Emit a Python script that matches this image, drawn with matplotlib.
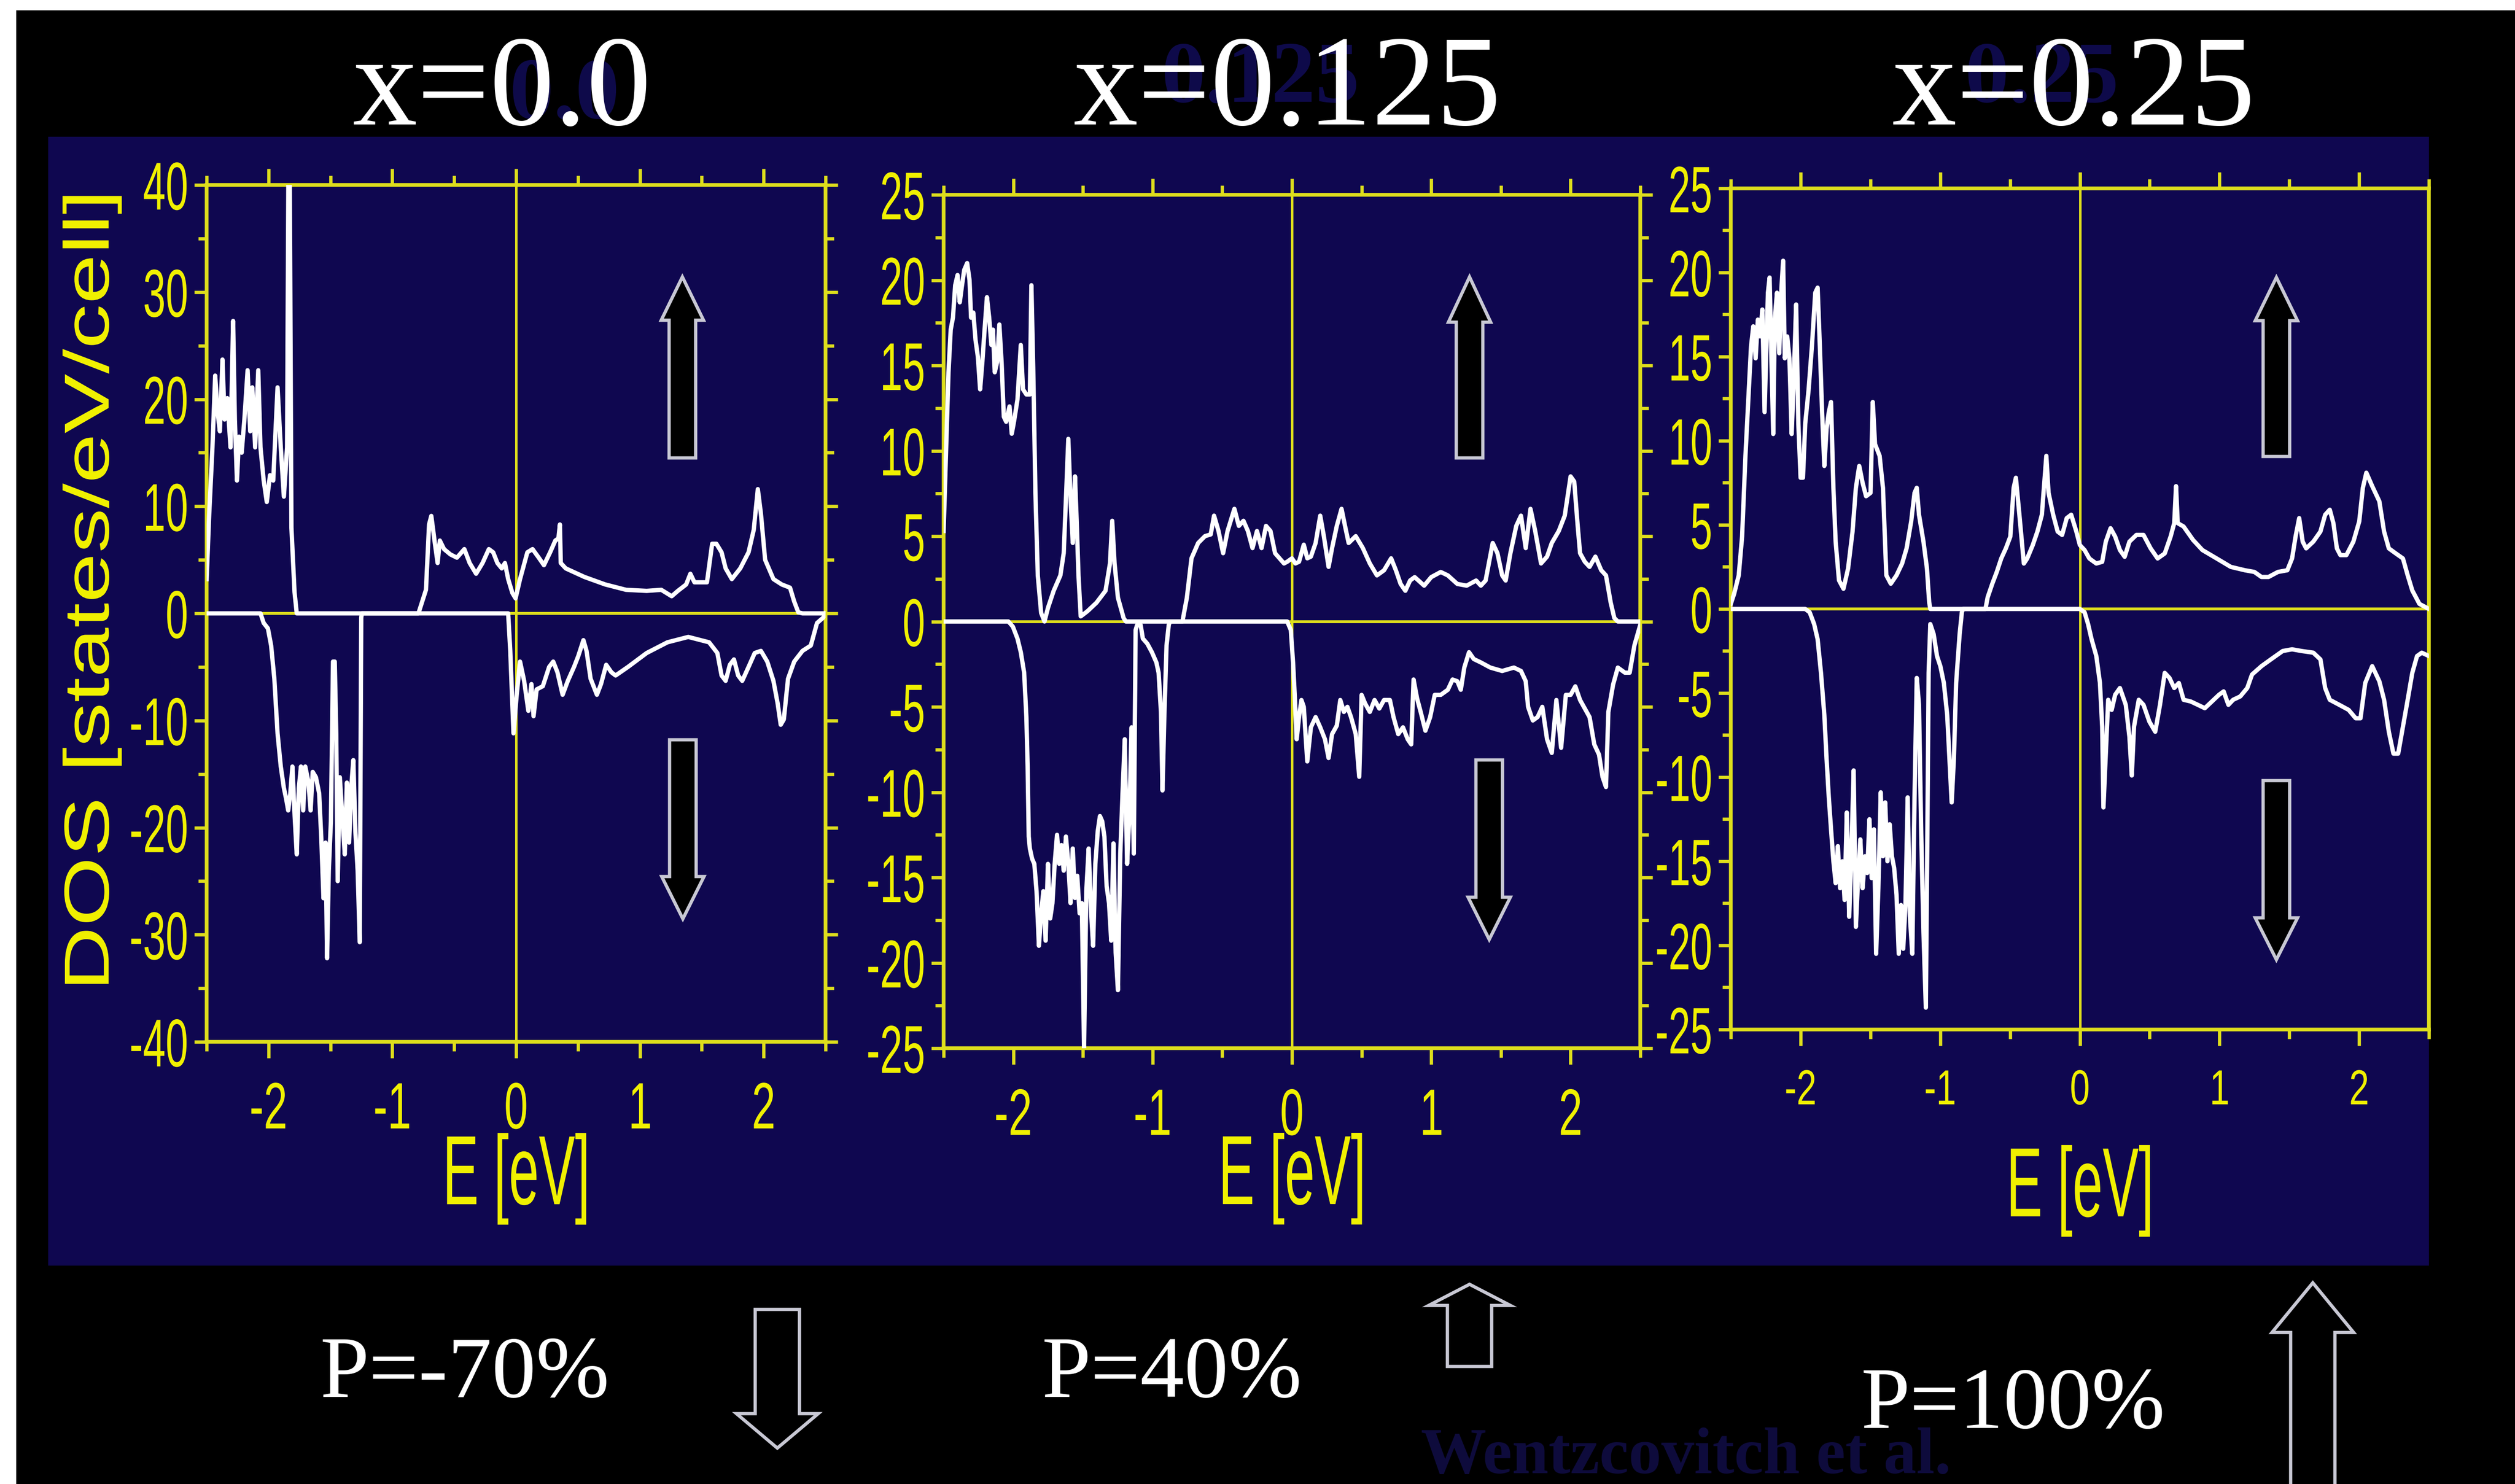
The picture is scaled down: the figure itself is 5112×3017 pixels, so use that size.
import matplotlib
matplotlib.use("Agg")
import matplotlib.pyplot as plt
import matplotlib.patches as patches
from matplotlib.patheffects import AbstractPathEffect
from matplotlib.transforms import Affine2D
from matplotlib.ticker import MultipleLocator

# ---- data: spin-resolved DOS (E in eV, DOS in states/eV/cell) ----
e_up_0 = [-2.5, -2.479, -2.453, -2.431, -2.41, -2.393, -2.372, -2.355, -2.333, -2.307, -2.286, -2.272,
          -2.255, -2.238, -2.217, -2.195, -2.169, -2.148, -2.131, -2.108, -2.083, -2.065, -2.039, -2.014,
          -1.988, -1.962, -1.927, -1.901, -1.876, -1.85, -1.84, -1.828, -1.815, -1.79, -1.772, -0.789,
          -0.728, -0.703, -0.685, -0.659, -0.634, -0.616, -0.582, -0.53, -0.478, -0.418, -0.375, -0.323,
          -0.271, -0.22, -0.185, -0.151, -0.116, -0.09, -0.064, -0.03, -0.004, 0.032, 0.091, 0.133,
          0.183, 0.225, 0.275, 0.317, 0.342, 0.354, 0.361, 0.401, 0.552, 0.72, 0.888, 1.055, 1.173,
          1.257, 1.307, 1.374, 1.408, 1.441, 1.542, 1.584, 1.618, 1.66, 1.693, 1.743, 1.811, 1.878,
          1.92, 1.953, 1.978, 2.012, 2.079, 2.146, 2.213, 2.247, 2.28, 2.314, 2.5]
dos_up_0 = [3.2, 9.3, 15.5, 22.2, 18.6, 17.0, 23.7, 18.1, 20.1, 15.5, 27.3, 18.1,
            12.4, 16.5, 15.0, 18.1, 22.7, 17.0, 21.1, 15.5, 22.7, 15.5, 12.4, 10.4,
            12.9, 12.4, 21.1, 15.5, 10.9, 15.5, 40.0, 40.0, 8.0, 2.0, 0.0, 0.0,
            2.2, 8.3, 9.1, 6.8, 4.7, 6.8, 6.0, 5.5, 5.2, 6.0, 4.7, 3.7,
            4.7, 6.0, 5.7, 4.7, 4.2, 4.7, 3.2, 1.9, 1.4, 3.2, 5.7, 6.0,
            5.2, 4.5, 5.7, 6.8, 7.0, 8.3, 4.7, 4.2, 3.4, 2.7, 2.2, 2.1, 2.2,
            1.6, 2.1, 2.7, 3.7, 2.9, 2.9, 6.5, 6.5, 5.7, 4.2, 3.2, 4.2, 5.7,
            7.8, 11.6, 9.3, 5.0, 3.2, 2.7, 2.4, 1.1, 0.1, 0.0, 0.0]
e_dn_0 = [-2.5, -2.065, -2.039, -2.005, -1.979, -1.953, -1.927, -1.901, -1.876, -1.858, -1.841, -1.824,
          -1.807, -1.789, -1.772, -1.755, -1.738, -1.72, -1.703, -1.677, -1.66, -1.643, -1.617, -1.591,
          -1.574, -1.556, -1.539, -1.527, -1.513, -1.496, -1.479, -1.465, -1.453, -1.441, -1.424, -1.401,
          -1.384, -1.367, -1.349, -1.332, -1.315, -1.298, -1.28, -1.263, -1.251, -1.246, -0.064, -0.047,
          -0.021, 0.005, 0.032, 0.065, 0.099, 0.124, 0.141, 0.166, 0.216, 0.267, 0.3, 0.334, 0.376,
          0.418, 0.468, 0.502, 0.544, 0.569, 0.602, 0.653, 0.686, 0.728, 0.77, 0.804, 0.904, 1.055,
          1.223, 1.391, 1.559, 1.626, 1.66, 1.693, 1.727, 1.76, 1.794, 1.827, 1.878, 1.928, 1.978,
          2.029, 2.079, 2.113, 2.138, 2.163, 2.197, 2.247, 2.314, 2.381, 2.431, 2.481, 2.5]
dos_dn_0 = [0.0, 0.0, -0.9, -1.4, -3.0, -6.1, -11.2, -14.3, -16.3, -17.3, -18.4, -16.8,
            -14.3, -18.9, -22.5, -16.3, -14.3, -18.4, -14.3, -15.8, -18.4, -14.8, -15.3, -16.8,
            -20.9, -26.6, -21.4, -32.2, -24.0, -19.4, -4.5, -4.5, -11.2, -25.0, -15.3, -19.4,
            -22.5, -15.8, -21.4, -16.3, -13.7, -20.4, -24.0, -30.7, -0.4, 0.0, 0.0, -3.5,
            -11.2, -7.6, -4.5, -6.3, -9.1, -6.6, -9.6, -7.1, -6.8, -5.0, -4.5, -5.5, -7.6,
            -6.3, -5.0, -4.0, -2.5, -3.5, -6.1, -7.6, -6.6, -4.8, -5.5, -5.8, -5.0, -3.7,
            -2.7, -2.2, -2.7, -3.7, -5.8, -6.3, -4.8, -4.3, -5.8, -6.3, -5.0, -3.7, -3.5,
            -4.5, -6.3, -8.4, -10.4, -9.9, -6.1, -4.5, -3.5, -3.0, -0.9, -0.4, 0.0]

e_up_1 = [-2.5, -2.482, -2.465, -2.449, -2.433, -2.417, -2.4, -2.384, -2.368, -2.352, -2.331, -2.314,
          -2.303, -2.287, -2.271, -2.254, -2.238, -2.222, -2.206, -2.189, -2.173, -2.157, -2.146, -2.133,
          -2.116, -2.1, -2.084, -2.068, -2.051, -2.027, -2.011, -1.995, -1.97, -1.946, -1.93, -1.906,
          -1.881, -1.87, -1.857, -1.841, -1.824, -1.8, -1.776, -1.751, -1.71, -1.662, -1.638, -1.622,
          -1.605, -1.589, -1.573, -1.557, -1.545, -1.532, -1.516, -1.468, -1.403, -1.338, -1.306, -1.29,
          -1.273, -1.249, -1.208, -1.192, -0.786, -0.754, -0.721, -0.673, -0.624, -0.583, -0.559, -0.527,
          -0.494, -0.462, -0.413, -0.381, -0.348, -0.316, -0.283, -0.251, -0.218, -0.186, -0.154, -0.121,
          -0.089, -0.057, -0.034, 0.0, 0.025, 0.051, 0.085, 0.11, 0.136, 0.17, 0.203, 0.229, 0.263,
          0.288, 0.322, 0.356, 0.381, 0.407, 0.458, 0.509, 0.559, 0.61, 0.661, 0.712, 0.746, 0.78,
          0.814, 0.848, 0.881, 0.949, 1.0, 1.068, 1.119, 1.187, 1.254, 1.322, 1.356, 1.39, 1.441,
          1.475, 1.509, 1.534, 1.568, 1.61, 1.644, 1.678, 1.712, 1.746, 1.788, 1.831, 1.865, 1.915,
          1.958, 2.0, 2.026, 2.051, 2.068, 2.102, 2.136, 2.178, 2.22, 2.254, 2.288, 2.314, 2.339, 2.5]
dos_up_1 = [5.3, 10.1, 14.6, 17.1, 17.8, 19.7, 20.3, 18.7, 19.7, 20.6, 21.0, 20.0,
            17.8, 18.1, 16.5, 15.5, 13.6, 15.2, 17.1, 19.0, 17.8, 16.2, 17.1, 14.6,
            15.2, 17.4, 15.2, 12.0, 11.7, 12.6, 11.0, 11.7, 13.0, 16.2, 13.6, 13.3,
            13.3, 19.7, 14.9, 7.5, 2.7, 0.5, 0.0, 0.8, 1.8, 2.7, 4.0, 7.2,
            10.7, 7.2, 4.6, 8.5, 5.9, 2.7, 0.3, 0.6, 1.1, 1.8, 3.4, 5.9,
            3.4, 1.4, 0.2, 0.0, 0.0, 1.4, 3.7, 4.6, 5.0, 5.1, 6.2, 5.3,
            4.0, 5.3, 6.6, 5.6, 5.9, 5.3, 4.3, 5.3, 4.3, 5.6, 5.3, 4.0,
            3.7, 3.4, 3.5, 3.7, 3.4, 3.5, 4.5, 3.7, 3.8, 4.6, 6.2, 5.0, 3.2,
            4.3, 5.6, 6.6, 5.6, 4.6, 5.0, 4.3, 3.4, 2.7, 3.0, 3.7, 3.0, 2.2,
            1.8, 2.4, 2.6, 2.1, 2.6, 2.9, 2.7, 2.2, 2.1, 2.4, 2.1, 2.4, 4.6,
            4.0, 2.7, 2.4, 4.0, 5.6, 6.2, 4.3, 6.6, 5.3, 3.4, 3.8, 4.6, 5.3,
            6.2, 8.5, 8.2, 5.6, 4.0, 3.5, 3.2, 3.8, 3.0, 2.7, 1.1, 0.2, 0.0, 0.0]
e_dn_1 = [-2.5, -2.035, -2.003, -1.97, -1.946, -1.922, -1.906, -1.897, -1.889, -1.881, -1.865, -1.849,
          -1.833, -1.816, -1.8, -1.784, -1.768, -1.751, -1.735, -1.719, -1.703, -1.686, -1.67, -1.654,
          -1.638, -1.622, -1.605, -1.589, -1.573, -1.557, -1.541, -1.524, -1.508, -1.492, -1.476, -1.459,
          -1.443, -1.427, -1.411, -1.394, -1.378, -1.362, -1.346, -1.33, -1.313, -1.297, -1.281, -1.265,
          -1.249, -1.232, -1.216, -1.2, -1.183, -1.167, -1.151, -1.135, -1.122, -1.111, -1.086, -1.07,
          -1.038, -1.005, -0.973, -0.957, -0.94, -0.929, -0.916, -0.9, -0.884, -0.876, -0.034, -0.008,
          0.008, 0.02, 0.034, 0.051, 0.068, 0.085, 0.11, 0.136, 0.17, 0.203, 0.237, 0.263, 0.288,
          0.322, 0.347, 0.373, 0.398, 0.424, 0.458, 0.483, 0.5, 0.525, 0.559, 0.593, 0.627, 0.661,
          0.703, 0.729, 0.763, 0.797, 0.831, 0.856, 0.873, 0.898, 0.924, 0.958, 0.992, 1.025, 1.068,
          1.119, 1.153, 1.187, 1.212, 1.237, 1.271, 1.305, 1.356, 1.424, 1.509, 1.593, 1.644, 1.678,
          1.695, 1.729, 1.763, 1.797, 1.831, 1.865, 1.898, 1.932, 1.966, 2.0, 2.034, 2.068, 2.102,
          2.136, 2.17, 2.204, 2.229, 2.254, 2.271, 2.305, 2.339, 2.39, 2.424, 2.458, 2.5]
dos_dn_1 = [0.0, 0.0, -0.3, -1.0, -1.8, -3.0, -5.6, -8.5, -12.6, -13.3, -13.9, -14.2,
            -15.8, -19.0, -17.1, -15.8, -18.7, -14.2, -17.4, -16.5, -14.2, -12.5, -14.2, -13.1,
            -14.6, -12.6, -14.2, -16.5, -13.3, -16.2, -14.9, -17.1, -16.5, -25.0, -15.8, -13.3,
            -16.8, -19.0, -14.2, -12.3, -11.4, -11.7, -12.6, -15.5, -16.5, -18.7, -13.0, -19.4,
            -21.6, -13.6, -10.1, -6.9, -14.2, -11.4, -6.2, -13.6, -0.5, -0.2, -0.2, -1.0,
            -1.3, -1.8, -2.4, -3.0, -5.3, -9.9, -5.6, -1.4, -0.2, 0.0, 0.0, -0.5,
            -2.4, -4.3, -6.9, -5.6, -4.6, -5.0, -8.2, -6.2, -5.6, -6.2, -6.9, -8.0, -6.6,
            -6.1, -4.6, -5.3, -5.0, -5.6, -6.6, -9.1, -4.3, -4.8, -5.3, -4.6, -5.1, -4.6,
            -4.6, -5.6, -6.6, -6.2, -6.9, -7.2, -3.4, -4.5, -5.3, -6.4, -5.6, -4.3, -4.3,
            -4.0, -3.4, -3.5, -4.0, -2.7, -1.8, -2.2, -2.4, -2.7, -2.9, -2.7, -2.9, -3.5,
            -5.0, -5.8, -5.6, -5.0, -6.9, -7.7, -4.6, -7.4, -4.3, -4.3, -3.8, -4.6, -5.1,
            -5.6, -7.2, -7.8, -9.1, -9.7, -5.3, -3.7, -2.7, -3.0, -3.0, -1.4, -0.2]

e_up_2 = [-2.5, -2.476, -2.443, -2.419, -2.395, -2.371, -2.355, -2.339, -2.322, -2.306, -2.29, -2.274,
          -2.258, -2.245, -2.234, -2.222, -2.209, -2.196, -2.185, -2.169, -2.153, -2.137, -2.125, -2.113,
          -2.096, -2.08, -2.064, -2.048, -2.032, -2.016, -2.0, -1.983, -1.967, -1.943, -1.919, -1.895,
          -1.878, -1.862, -1.846, -1.83, -1.814, -1.798, -1.782, -1.765, -1.749, -1.725, -1.693, -1.66,
          -1.628, -1.604, -1.58, -1.556, -1.531, -1.499, -1.483, -1.467, -1.434, -1.41, -1.386, -1.354,
          -1.313, -1.273, -1.241, -1.208, -1.184, -1.168, -1.152, -1.12, -1.095, -1.079, -1.071, -0.676,
          -0.66, -0.627, -0.595, -0.563, -0.53, -0.498, -0.474, -0.458, -0.433, -0.401, -0.377, -0.337,
          -0.304, -0.272, -0.24, -0.224, -0.191, -0.159, -0.127, -0.094, -0.062, -0.025, 0.0, 0.034,
          0.068, 0.118, 0.16, 0.186, 0.22, 0.253, 0.287, 0.321, 0.355, 0.405, 0.456, 0.507, 0.557,
          0.608, 0.65, 0.676, 0.689, 0.701, 0.743, 0.811, 0.878, 0.98, 1.081, 1.182, 1.25, 1.301,
          1.351, 1.419, 1.486, 1.52, 1.545, 1.571, 1.596, 1.621, 1.672, 1.723, 1.757, 1.79, 1.816,
          1.841, 1.866, 1.909, 1.959, 2.001, 2.027, 2.052, 2.094, 2.145, 2.179, 2.213, 2.263, 2.314,
          2.348, 2.381, 2.432, 2.5]
dos_up_2 = [0.3, 0.9, 2.0, 4.3, 9.1, 13.0, 15.6, 16.8, 14.9, 17.2, 16.2, 17.8,
            11.7, 15.6, 18.8, 19.7, 14.9, 10.4, 17.2, 18.8, 15.2, 19.1, 20.7, 14.9,
            16.2, 14.9, 10.4, 13.9, 18.1, 11.0, 7.8, 7.8, 11.0, 13.0, 15.6, 18.8,
            19.1, 15.6, 11.7, 8.5, 10.7, 11.7, 12.3, 7.2, 4.0, 1.7, 1.2, 2.4,
            4.6, 7.2, 8.5, 7.5, 6.7, 6.9, 12.3, 9.8, 9.1, 7.2, 2.0, 1.5,
            2.0, 2.7, 3.6, 5.2, 6.9, 7.2, 5.6, 4.0, 2.4, 0.4, 0.0, 0.0,
            0.7, 1.5, 2.2, 3.0, 3.6, 4.3, 7.2, 7.8, 5.6, 2.7, 3.0, 3.8,
            4.6, 5.6, 9.1, 6.9, 5.6, 4.6, 4.4, 5.4, 5.6, 4.6, 3.8, 3.5,
            3.0, 2.7, 2.8, 4.0, 4.8, 4.3, 3.5, 3.1, 4.0, 4.4, 4.4, 3.6, 3.0,
            3.3, 4.3, 5.1, 7.3, 5.1, 4.9, 4.1, 3.5, 3.0, 2.5, 2.3, 2.2, 1.9,
            1.9, 2.2, 2.3, 3.0, 4.3, 5.4, 4.0, 3.6, 4.0, 4.6, 5.6, 5.9, 5.1,
            3.6, 3.2, 3.2, 4.0, 5.2, 7.2, 8.1, 7.3, 6.4, 4.6, 3.6, 3.3, 3.0,
            2.0, 1.1, 0.3, 0.0]
e_dn_2 = [-2.5, -1.967, -1.935, -1.903, -1.878, -1.854, -1.83, -1.814, -1.798, -1.782, -1.765, -1.749,
          -1.733, -1.717, -1.701, -1.685, -1.669, -1.652, -1.636, -1.62, -1.604, -1.588, -1.572, -1.556,
          -1.539, -1.523, -1.507, -1.491, -1.475, -1.459, -1.443, -1.426, -1.41, -1.394, -1.378, -1.362,
          -1.346, -1.33, -1.313, -1.297, -1.281, -1.265, -1.249, -1.233, -1.217, -1.2, -1.184, -1.168,
          -1.152, -1.136, -1.12, -1.103, -1.092, -1.083, -1.071, -1.047, -1.023, -0.999, -0.974, -0.95,
          -0.934, -0.918, -0.902, -0.886, -0.861, -0.845, -0.837, 0.0, 0.034, 0.059, 0.084, 0.118,
          0.144, 0.16, 0.169, 0.186, 0.203, 0.228, 0.253, 0.287, 0.329, 0.355, 0.372, 0.388, 0.422,
          0.456, 0.498, 0.54, 0.574, 0.608, 0.642, 0.676, 0.709, 0.743, 0.794, 0.845, 0.895, 0.946,
          0.997, 1.03, 1.064, 1.098, 1.149, 1.199, 1.233, 1.301, 1.368, 1.453, 1.52, 1.588, 1.672,
          1.723, 1.757, 1.79, 1.858, 1.925, 1.976, 2.01, 2.044, 2.094, 2.145, 2.179, 2.213, 2.246,
          2.28, 2.314, 2.348, 2.381, 2.415, 2.449, 2.5]
dos_dn_2 = [0.0, 0.0, -0.2, -0.9, -1.8, -3.8, -6.3, -8.9, -11.2, -13.1, -15.0, -16.3,
            -14.1, -16.6, -15.0, -17.3, -12.1, -18.3, -14.4, -9.6, -18.9, -16.0, -13.7, -16.6,
            -14.7, -15.7, -12.5, -16.0, -13.1, -20.5, -16.6, -10.9, -14.7, -11.5, -15.0, -12.8,
            -14.7, -15.4, -17.0, -20.5, -17.6, -20.2, -17.6, -11.2, -18.3, -20.5, -11.2, -4.1,
            -5.7, -13.4, -19.2, -23.7, -13.4, -3.8, -0.9, -1.5, -2.8, -3.4, -4.4, -6.3,
            -8.9, -11.5, -8.9, -4.4, -1.5, -0.2, 0.0, 0.0, -0.2, -0.9, -1.8, -2.8,
            -4.4, -7.0, -11.8, -8.6, -5.4, -6.0, -5.1, -4.7, -5.7, -7.6, -9.9, -7.0, -5.4,
            -5.7, -6.7, -7.3, -5.7, -3.8, -4.1, -4.7, -4.4, -5.4, -5.5, -5.7, -5.9, -5.5,
            -5.1, -4.9, -5.7, -5.4, -5.2, -4.7, -3.9, -3.4, -3.0, -2.5, -2.4, -2.5, -2.6,
            -3.0, -4.7, -5.4, -5.7, -6.0, -6.5, -6.5, -4.4, -3.4, -4.3, -5.4, -7.3, -8.6,
            -8.6, -7.0, -5.4, -3.8, -2.8, -2.6, -2.8]

titles = ["x=0.0", "x=0.125", "x=0.25"]
ghost_titles = ["0.0", "0.125", "0.25"]
polarizations = ["P=-70%", "P=40%", "P=100%"]
y_limits = [40, 25, 25]
y_major = [10, 5, 5]

# ---- styling ----
W, H = 5112, 3017
NAVY = "#0f0750"
YELLOW = "#f0f000"
SPINE = "#dede1c"
SANS = ["Liberation Sans", "DejaVu Sans"]
SERIF = ["Liberation Serif", "DejaVu Serif"]
plt.rcParams["font.family"] = SANS
plt.rcParams["axes.unicode_minus"] = False


class Squeeze(AbstractPathEffect):
    """Scale the glyph outline of a text about its own box (the slide uses a condensed face)."""

    def __init__(self, sx=1.0, sy=1.0, anchor="center"):
        super().__init__()
        self.sx, self.sy, self.anchor = sx, sy, anchor

    def draw_path(self, renderer, gc, tpath, affine, rgbFace=None):
        ext = tpath.get_extents(affine)
        cx = {"right": ext.x1, "left": ext.x0}.get(self.anchor, 0.5 * (ext.x0 + ext.x1))
        cy = 0.5 * (ext.y0 + ext.y1)
        t = affine + Affine2D().translate(-cx, -cy).scale(self.sx, self.sy).translate(cx, cy)
        renderer.draw_path(gc, tpath, t, rgbFace)


def rect(x0, y0, x1, y1):
    # pixel box (y down) -> figure fraction [left, bottom, width, height]
    return [x0 / W, 1 - y1 / H, (x1 - x0) / W, (y1 - y0) / H]


def block_arrow(fig, xc, y_tail, y_hb, y_tip, hs, hh):
    pts = [(xc - hs, y_tail), (xc - hs, y_hb), (xc - hh, y_hb), (xc, y_tip),
           (xc + hh, y_hb), (xc + hs, y_hb), (xc + hs, y_tail)]
    pts = [(x / W, 1 - y / H) for x, y in pts]
    fig.add_artist(patches.Polygon(pts, closed=True, facecolor="black", edgecolor="#c8c8d4",
                                   linewidth=1.6, transform=fig.transFigure, zorder=2))


fig = plt.figure(figsize=(W / 300, H / 300), dpi=300, facecolor="white")

# black slide background and navy plot panel
x0, y0, w, h = rect(33, 21, W, H)
fig.add_artist(patches.Rectangle((x0, y0), w, h, transform=fig.transFigure,
                                 facecolor="black", edgecolor="none", zorder=-2))
x0, y0, w, h = rect(98, 278, 4937, 2573)
fig.add_artist(patches.Rectangle((x0, y0), w, h, transform=fig.transFigure,
                                 facecolor=NAVY, edgecolor="none", zorder=-1))

boxes = [(420, 376, 1678, 2118), (1918, 396, 3334, 2131), (3518, 383, 4937, 2093)]
ytick_fs = [33, 33, 32]
xtick_fs = [32, 32, 24]
xtick_sx = [0.65, 0.65, 0.73]
xlabel_y = [-0.16, -0.153, -0.192]
series = [(e_up_0, dos_up_0, e_dn_0, dos_dn_0),
          (e_up_1, dos_up_1, e_dn_1, dos_dn_1),
          (e_up_2, dos_up_2, e_dn_2, dos_dn_2)]

for i, box in enumerate(boxes):
    ax = fig.add_axes(rect(*box))
    ax.set_facecolor(NAVY)
    ax.axvline(0, color=SPINE, lw=1.2, zorder=1)
    ax.axhline(0, color=SPINE, lw=1.4, zorder=1)
    eu, du, ed, dd = series[i]
    ax.plot(eu, du, color="white", lw=2.1, zorder=3)
    ax.plot(ed, dd, color="white", lw=2.1, zorder=3)

    ax.set_xlim(-2.5, 2.5)
    ax.set_ylim(-y_limits[i], y_limits[i])
    ax.xaxis.set_major_locator(MultipleLocator(1))
    ax.xaxis.set_minor_locator(MultipleLocator(0.5))
    ax.yaxis.set_major_locator(MultipleLocator(y_major[i]))
    ax.yaxis.set_minor_locator(MultipleLocator(y_major[i] / 2))
    for sp in ax.spines.values():
        sp.set_color(SPINE)
        sp.set_linewidth(1.8)
    # the last panel sits on the edge of the navy box: no ticks on its right side
    ax.tick_params(which="both", direction="out", top=True, right=(i < 2),
                   color=SPINE, labelcolor=YELLOW, width=1.6)
    ax.tick_params(axis="x", which="major", length=8, pad=11, labelsize=xtick_fs[i])
    ax.tick_params(axis="x", which="minor", length=4.5)
    ax.tick_params(axis="y", which="major", length=6, pad=2.5, labelsize=ytick_fs[i])
    ax.tick_params(axis="y", which="minor", length=4)

    for lbl in ax.get_yticklabels():
        lbl.set_path_effects([Squeeze(sx=0.6, anchor="right")])
    for lbl in ax.get_xticklabels():
        lbl.set_path_effects([Squeeze(sx=xtick_sx[i])])

    ax.set_xlabel("E [eV]", color=YELLOW, fontsize=48, va="center",
                  path_effects=[Squeeze(sx=0.55)])
    ax.xaxis.set_label_coords(0.5, xlabel_y[i])
    if i == 0:
        ax.set_ylabel("DOS [states/eV/cell]", color=YELLOW, fontsize=31, va="center",
                      path_effects=[Squeeze(sy=1.41)])
        ax.yaxis.set_label_coords(-0.185, 0.527)

# spin arrows inside the panels: (x centre, tail, head base, tip)
panel_arrows = [(1387, 931, 651, 563), (1388, 1504, 1782, 1868),
                (2987, 931, 655, 563), (3027, 1545, 1824, 1910),
                (4627, 928, 652, 564), (4627, 1587, 1866, 1951)]
for xc, yt, yh, yp in panel_arrows:
    block_arrow(fig, xc, yt, yh, yp, 27, 43)

# majority-carrier arrows under the panels
bottom_arrows = [(1580, 2662, 2874, 2944), (2987, 2778, 2654, 2611), (4701, 3080, 2709, 2608)]
for xc, yt, yh, yp in bottom_arrows:
    block_arrow(fig, xc, yt, yh, yp, 45, 83)

# titles with the faint leftover labels behind them
title_x = [1020, 2617, 4215]
ghost_x = [1147, 2562, 4150]
ghost_base = [240, 207, 207]
for i in range(3):
    fig.text(ghost_x[i] / W, 1 - ghost_base[i] / H, ghost_titles[i], ha="center", va="baseline",
             fontsize=43, fontweight="bold", family=SERIF, color="#0e0a4a", zorder=2.5)
    fig.text(title_x[i] / W, 1 - 253 / H, titles[i], ha="center", va="baseline",
             fontsize=63, family=SERIF, color="white", zorder=3)

p_x = [651, 2118, 3783]
p_base = [2840, 2840, 2903]
for i in range(3):
    fig.text(p_x[i] / W, 1 - p_base[i] / H, polarizations[i], ha="left", va="baseline",
             fontsize=43, family=SERIF, color="white", zorder=3)

fig.text(2888 / W, 1 - 2995 / H, "Wentzcovitch et al.", ha="left", va="baseline",
         fontsize=32, fontweight="bold", family=SERIF, color="#0e0b3c", zorder=3)

fig.savefig("out.png", dpi=300, facecolor=fig.get_facecolor())
